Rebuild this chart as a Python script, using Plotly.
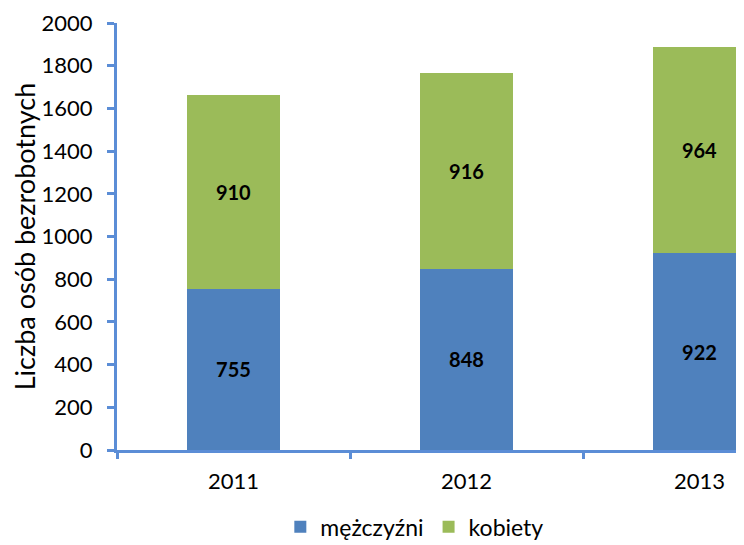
import plotly.graph_objects as go

years = ["2011", "2012", "2013"]
men = [755, 848, 922]
women = [910, 916, 964]
y_ticks = [0, 200, 400, 600, 800, 1000, 1200, 1400, 1600, 1800, 2000]

axis_col = "#5B8DD6"
font_fam = "Lato, 'Open Sans', sans-serif"

fig = go.Figure()
fig.add_trace(go.Bar(x=years, y=men, name="mężczyźni", marker_color="#4F81BD",
                     marker_line_width=0, text=men, textposition="inside",
                     insidetextanchor="middle",
                     textfont=dict(size=20, color="black", family=font_fam, weight="bold")))
fig.add_trace(go.Bar(x=years, y=women, name="kobiety", marker_color="#9BBB59",
                     marker_line_width=0, text=women, textposition="inside",
                     insidetextanchor="middle",
                     textfont=dict(size=20, color="black", family=font_fam, weight="bold")))

fig.update_layout(
    width=736, height=537,
    barmode="stack", bargap=0.6,
    margin=dict(l=109, r=0, t=15, b=95, autoexpand=False),
    plot_bgcolor="white", paper_bgcolor="white",
    font=dict(family=font_fam, size=22, color="black"),
    showlegend=True,
    legend=dict(orientation="h", x=0.475, xanchor="center", y=-0.18, yanchor="middle",
                font=dict(size=23), itemwidth=30, traceorder="normal"),
    xaxis=dict(range=[-0.5, 2.191], showline=True, linecolor=axis_col, linewidth=3,
               ticks="outside", tickson="boundaries", ticklen=6, tickwidth=3,
               tickcolor=axis_col, showgrid=False, ticklabelstandoff=10, automargin=False),
    yaxis=dict(range=[0, 2000], tickvals=y_ticks, showline=True, linecolor=axis_col,
               linewidth=3, ticks="outside", ticklen=7, tickwidth=3, tickcolor=axis_col,
               showgrid=False, zeroline=False, ticklabelstandoff=10, automargin=False,
               title=dict(text="Liczba osób bezrobotnych", font=dict(size=27), standoff=4)),
)

fig.write_html("out.html")
